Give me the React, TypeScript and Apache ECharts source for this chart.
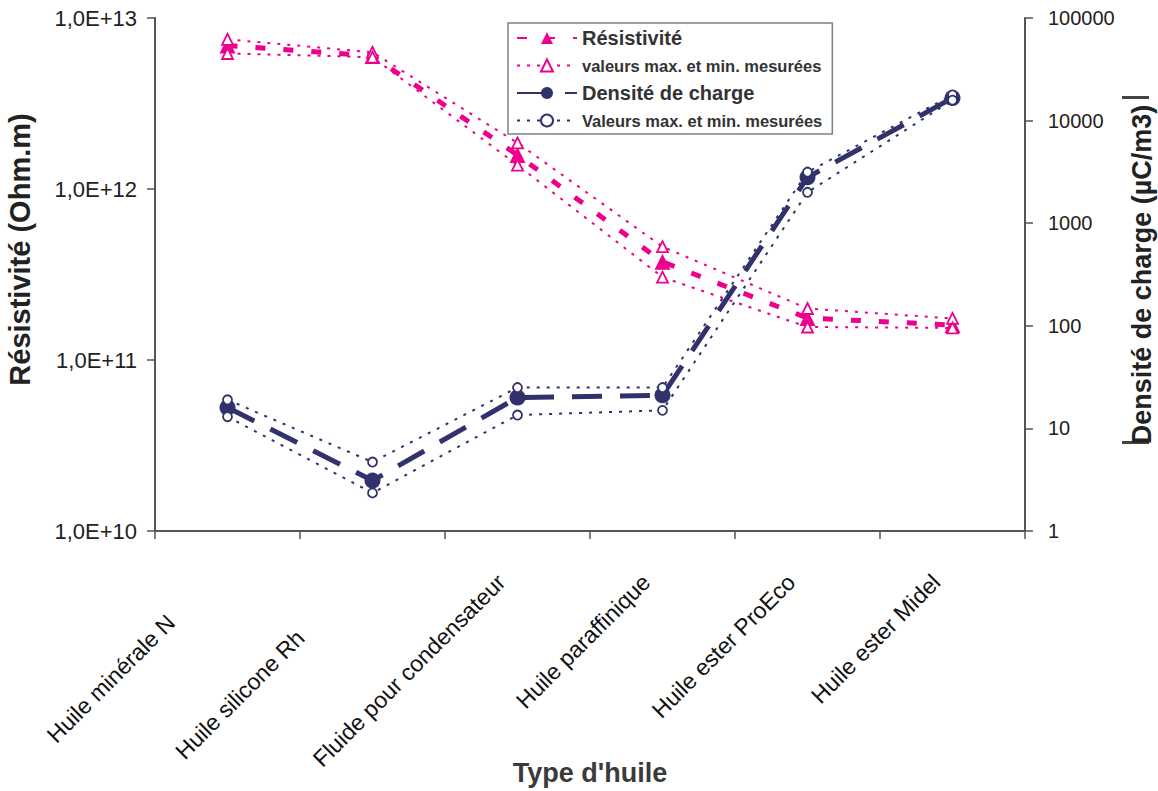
import React, { useEffect, useRef } from "react";
import * as echarts from "echarts";

const categories = [
  "Huile minérale N",
  "Huile silicone Rh",
  "Fluide pour condensateur",
  "Huile paraffinique",
  "Huile ester ProEco",
  "Huile ester Midel",
];

// Résistivité (Ohm.m) – left log axis
const resistivite = [6.9e12, 6.0e12, 1.58e12, 3.75e11, 1.76e11, 1.6e11];
const resistiviteMax = [7.5e12, 6.3e12, 1.86e12, 4.6e11, 2.0e11, 1.75e11];
const resistiviteMin = [6.2e12, 5.9e12, 1.38e12, 3.05e11, 1.56e11, 1.54e11];

// Densité de charge (µC/m3) – right log axis
const densite = [16, 3.1, 20, 21, 2800, 16600];
const densiteMax = [19, 4.7, 25, 25, 3150, 17800];
const densiteMin = [13, 2.35, 13.5, 15, 2000, 15800];

const leftTicks = [1e10, 1e11, 1e12, 1e13];
const rightTicks = [1, 10, 100, 1000, 10000, 100000];

const FONT = "'Liberation Sans', Arial, Helvetica, sans-serif";
const MAG = "#EC008C";
const NAVY = "#31326B";
const AXIS = "#555555";

const labelShift = [80, 102, 23, 23, 23, 23];

export default function App() {
  const ref = useRef<HTMLDivElement>(null);

  useEffect(() => {
    if (!ref.current) return;
    const chart = echarts.init(ref.current, undefined, { renderer: "svg" });

    const rich: Record<string, any> = {};
    labelShift.forEach((p, i) => {
      rich["s" + i] = {
        fontSize: 23,
        fontFamily: FONT,
        color: "#111",
        padding: [0, p, 0, 0],
      };
    });

    const option: any = {
      animation: false,
      backgroundColor: "#ffffff",
      textStyle: { fontFamily: FONT },
      grid: { left: 155, right: 133, top: 18, bottom: 260, containLabel: false, outerBoundsMode: "none" },
      legend: {
        left: 508,
        top: 23,
        orient: "vertical",
        backgroundColor: "#ffffff",
        borderColor: "#808080",
        borderWidth: 1.5,
        padding: [5, 10, 5, 8],
        itemGap: 9,
        itemWidth: 60,
        itemHeight: 15,
        textStyle: { color: "#333", fontFamily: FONT, fontWeight: "bold" },
        data: [
          { name: "Résistivité", textStyle: { fontSize: 20, fontWeight: "bold", color: "#333" } },
          { name: "valeurs max. et min. mesurées", textStyle: { fontSize: 16.5, fontWeight: "bold", color: "#333" } },
          { name: "Densité de charge", textStyle: { fontSize: 20, fontWeight: "bold", color: "#333" } },
          { name: "Valeurs max. et min. mesurées", textStyle: { fontSize: 16.5, fontWeight: "bold", color: "#333" } },
        ],
      },
      xAxis: {
        type: "category",
        data: categories,
        boundaryGap: true,
        axisLine: { lineStyle: { color: AXIS, width: 2 } },
        axisTick: { show: true, length: 8, lineStyle: { color: AXIS, width: 1.5 } },
        axisLabel: {
          interval: 0,
          rotate: 45,
          margin: 31,
          fontSize: 23,
          color: "#111",
          fontFamily: FONT,
          formatter: (v: string, i: number) => `{s${i}|${v}}`,
          rich,
        },
        name: "Type d'huile",
        nameLocation: "middle",
        nameGap: 228,
        nameMoveOverlap: false,
        nameTextStyle: { fontSize: 27, fontWeight: "bold", color: "#3a3a3a", fontFamily: FONT },
      },
      yAxis: [
        {
          type: "log",
          logBase: 10,
          min: leftTicks[0],
          max: leftTicks[leftTicks.length - 1],
          position: "left",
          axisLine: { show: true, lineStyle: { color: AXIS, width: 2 } },
          axisTick: { show: true, length: 8, lineStyle: { color: AXIS, width: 1.5 } },
          splitLine: { show: false },
          axisLabel: {
            margin: 18,
            fontSize: 22,
            color: "#222",
            fontFamily: FONT,
            formatter: (v: number) => "1,0E+" + Math.round(Math.log10(v)),
          },
          name: "Résistivité (Ohm.m)",
          nameLocation: "middle",
          nameGap: 121,
          nameRotate: 90,
          nameMoveOverlap: false,
          nameTextStyle: { fontSize: 29, fontWeight: "bold", color: "#222", fontFamily: FONT, padding: [0, 0, 0, 50] },
        },
        {
          type: "log",
          logBase: 10,
          min: rightTicks[0],
          max: rightTicks[rightTicks.length - 1],
          position: "right",
          axisLine: { show: true, lineStyle: { color: AXIS, width: 2 } },
          axisTick: { show: true, length: 8, lineStyle: { color: AXIS, width: 1.5 } },
          splitLine: { show: false },
          axisLabel: {
            margin: 23,
            fontSize: 20,
            color: "#222",
            fontFamily: FONT,
            formatter: (v: number) => String(Math.round(v)),
          },
          name: "Densité de charge (µC/m3)",
          nameLocation: "middle",
          nameGap: 103,
          nameRotate: 90,
          nameMoveOverlap: false,
          nameTextStyle: { fontSize: 27, fontWeight: "bold", color: "#222", fontFamily: FONT },
        },
      ],
      graphic: [
        { type: "rect", shape: { x: 1122, y: 96, width: 27, height: 3 }, style: { fill: "#444" } },
        { type: "rect", shape: { x: 1122, y: 441, width: 27, height: 3 }, style: { fill: "#444" } },
      ],
      series: [
        {
          name: "Résistivité",
          type: "line",
          yAxisIndex: 0,
          data: resistivite,
          symbol: "triangle",
          symbolSize: 16,
          showAllSymbol: true,
          itemStyle: { color: MAG },
          lineStyle: { color: MAG, width: 5, type: [10, 18] },
          z: 3,
        },
        {
          name: "valeurs max. et min. mesurées",
          type: "line",
          yAxisIndex: 0,
          data: resistiviteMax,
          symbol: "triangle",
          symbolSize: 11,
          itemStyle: { color: "#fff", borderColor: MAG, borderWidth: 1.8 },
          lineStyle: { color: MAG, width: 2, type: [3, 7] },
          z: 4,
        },
        {
          name: "valeurs max. et min. mesurées",
          type: "line",
          yAxisIndex: 0,
          data: resistiviteMin,
          symbol: "triangle",
          symbolSize: 11,
          itemStyle: { color: "#fff", borderColor: MAG, borderWidth: 1.8 },
          lineStyle: { color: MAG, width: 2, type: [3, 7] },
          z: 4,
        },
        {
          name: "Densité de charge",
          type: "line",
          yAxisIndex: 1,
          data: densite,
          symbol: "circle",
          symbolSize: 16,
          itemStyle: { color: NAVY },
          lineStyle: { color: NAVY, width: 5, type: [30, 18] },
          z: 3,
        },
        {
          name: "Valeurs max. et min. mesurées",
          type: "line",
          yAxisIndex: 1,
          data: densiteMax,
          symbol: "circle",
          symbolSize: 9,
          itemStyle: { color: "#fff", borderColor: NAVY, borderWidth: 1.8 },
          lineStyle: { color: NAVY, width: 2, type: [3, 7] },
          z: 4,
        },
        {
          name: "Valeurs max. et min. mesurées",
          type: "line",
          yAxisIndex: 1,
          data: densiteMin,
          symbol: "circle",
          symbolSize: 9,
          itemStyle: { color: "#fff", borderColor: NAVY, borderWidth: 1.8 },
          lineStyle: { color: NAVY, width: 2, type: [3, 7] },
          z: 4,
        },
      ],
    };

    chart.setOption(option);
    return () => chart.dispose();
  }, []);

  return <div ref={ref} style={{ width: 1158, height: 791, position: "absolute", left: 0, top: 0 }} />;
}
